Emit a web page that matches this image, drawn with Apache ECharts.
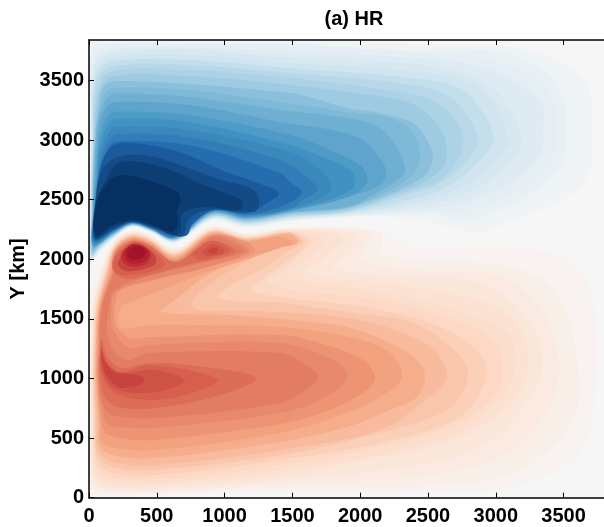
<!DOCTYPE html>
<html><head><meta charset="utf-8">
<style>html,body{margin:0;padding:0;background:#fff}#c{width:604px;height:527px}</style>
<script src="https://cdn.jsdelivr.net/npm/echarts@6/dist/echarts.min.js"></script>
</head><body><div id="c"></div>
<script>
const titleText = '(a) HR';
const yName = 'Y [km]';
const xTicks = [0,500,1000,1500,2000,2500,3000,3500];
const yTicks = [0,500,1000,1500,2000,2500,3000,3500];
const xMax = 3840, yMax = 3840;

// Filled-contour outlines: [x km, y km] vertices, one outline per level.
const redLevels = [.03,.06,.09,.12,.15,.18,.21,.24,.28,.32,.37,.41,.45,.48,.52,.56,.56,.60,.60,.60,.64,.64,.68,.68,.68,.73,.78,.84];
const redContours = [
[[10,30],[490,25],[1410,48],[2640,48],[3127,90],[3621,375],[3732,880],[3732,1550],[3570,1970],[3127,2095],[2390,2080],[2316,2137],[2205,2220],[1900,2263],[1480,2270],[1165,2220],[907,2280],[634,2095],[450,2205],[317,2246],[192,2162],[81,1953],[15,1743],[5,1000],[5,300]],
[[12,150],[60,55],[490,40],[1410,80],[2390,90],[3127,208],[3570,650],[3599,1155],[3452,1717],[3127,1936],[2515,1994],[2168,2053],[2146,2230],[1480,2262],[1165,2212],[907,2272],[634,2085],[450,2197],[317,2238],[192,2152],[87,1900],[22,1600],[12,1250],[10,1000],[10,650]],
[[18,180],[80,72],[490,57],[1410,115],[2390,174],[3083,375],[3422,820],[3459,1214],[3326,1600],[3009,1868],[2390,1910],[1999,1994],[2040,2120],[2087,2221],[1480,2257],[1165,2207],[907,2267],[634,2080],[450,2192],[317,2233],[192,2147],[93,1900],[27,1600],[16,1250],[12,1000],[14,650]],
[[24,220],[100,92],[490,73],[1410,149],[2146,233],[2884,426],[3275,879],[3341,1181],[3201,1550],[2884,1801],[2390,1852],[1800,1927],[1888,2062],[1977,2205],[1480,2253],[1165,2203],[907,2263],[634,2075],[450,2188],[317,2229],[192,2140],[100,1900],[33,1600],[20,1250],[15,1000],[18,650]],
[[30,250],[110,115],[490,98],[1410,191],[1903,291],[2685,484],[3142,820],[3238,1155],[3142,1491],[2788,1684],[2146,1801],[1608,1885],[1741,2020],[1866,2188],[1480,2245],[1165,2195],[907,2255],[634,2065],[450,2180],[317,2221],[192,2130],[105,1900],[38,1600],[24,1250],[18,1000],[22,650]],
[[36,280],[120,145],[490,124],[1410,233],[2589,484],[3009,795],[3142,1097],[3083,1382],[2640,1600],[2146,1726],[1460,1852],[1556,1953],[1741,2162],[1480,2240],[1165,2190],[907,2250],[634,2060],[450,2175],[317,2216],[192,2125],[110,1900],[44,1600],[28,1250],[22,1000],[28,650]],
[[44,310],[130,180],[490,157],[1410,275],[2441,510],[2884,736],[3046,1013],[2980,1323],[2640,1516],[2146,1659],[1500,1743],[1320,1810],[1446,1927],[1556,2036],[1652,2154],[1480,2235],[1165,2185],[907,2245],[634,2050],[450,2170],[317,2211],[192,2120],[118,1900],[50,1600],[32,1250],[26,1000],[34,650]],
[[52,340],[150,215],[490,191],[1410,317],[2146,459],[2736,677],[2928,1013],[2862,1239],[2515,1466],[2021,1600],[1409,1684],[1202,1743],[1320,1868],[1497,2011],[1615,2150],[1480,2228],[1165,2178],[907,2238],[634,2045],[450,2163],[317,2204],[192,2110],[125,1900],[55,1600],[37,1250],[30,1000],[40,650]],
[[60,370],[170,255],[490,233],[1410,358],[2021,510],[2640,736],[2795,1013],[2714,1214],[2390,1466],[1903,1558],[1409,1634],[951,1676],[1077,1801],[1268,1910],[1446,2053],[1578,2145],[1480,2224],[1165,2174],[907,2234],[634,2040],[450,2159],[317,2200],[192,2105],[130,1900],[60,1600],[41,1250],[35,1000],[48,650]],
[[70,400],[180,298],[490,275],[1410,400],[2146,568],[2478,820],[2640,1013],[2515,1265],[2050,1475],[1409,1558],[804,1575],[752,1634],[900,1801],[1047,1910],[1335,2078],[1556,2145],[1480,2220],[1165,2170],[907,2230],[634,2035],[450,2155],[317,2196],[192,2100],[137,1900],[66,1600],[45,1250],[40,1000],[56,650]],
[[89,420],[229,345],[490,333],[1410,468],[1903,593],[2220,736],[2419,845],[2478,1013],[2419,1155],[2220,1298],[1903,1432],[1409,1500],[1003,1533],[531,1558],[605,1634],[900,1885],[1210,2020],[1409,2095],[1541,2137],[1480,2210],[1165,2160],[907,2220],[634,2020],[450,2145],[317,2186],[192,2090],[145,1900],[72,1600],[52,1250],[50,1000],[70,650]],
[[100,470],[240,410],[490,400],[1410,543],[1903,711],[2146,845],[2308,1013],[2220,1214],[1950,1340],[1409,1432],[800,1449],[450,1449],[229,1432],[240,1600],[350,1660],[531,1743],[855,1885],[1187,2011],[1400,2095],[1512,2137],[1400,2190],[1165,2153],[907,2213],[634,2010],[450,2138],[317,2179],[192,2080],[155,1900],[78,1600],[58,1250],[56,1000],[81,650]],
[[125,540],[260,495],[490,484],[1410,618],[1777,736],[2050,904],[2109,1013],[2021,1155],[1800,1265],[1409,1365],[450,1348],[302,1340],[195,1449],[195,1634],[236,1743],[487,1827],[730,1910],[1000,1977],[1224,2062],[1165,2145],[907,2205],[634,2000],[450,2130],[317,2171],[192,2070],[165,1900],[84,1600],[64,1250],[60,1000],[92,650]],
[[150,610],[260,590],[490,585],[1410,711],[1700,820],[1910,1013],[1800,1155],[1409,1298],[435,1281],[302,1256],[177,1407],[165,1600],[192,1717],[310,1784],[560,1852],[855,1927],[1180,2062],[1120,2136],[907,2196],[634,1985],[450,2121],[317,2162],[192,2060],[175,1900],[90,1600],[72,1250],[66,1000],[105,700]],
[[190,690],[490,669],[1410,795],[1600,904],[1689,1013],[1600,1113],[1409,1214],[435,1214],[288,1155],[177,1239],[130,1432],[150,1600],[177,1726],[310,1810],[560,1893],[855,1977],[1150,2062],[1090,2125],[907,2188],[634,1975],[450,2113],[317,2154],[192,2050],[184,1900],[96,1600],[80,1250],[70,1000],[115,750]],
[[1232,1005],[730,1113],[435,1130],[236,1088],[140,1181],[89,1340],[81,1097],[103,879],[214,761],[487,753],[973,862]],
[[192,2036],[317,2150],[450,2112],[634,1978],[782,2070],[907,2154],[1040,2112],[1084,2062],[929,2003],[782,1969],[634,1928],[450,1869],[300,1835],[215,1860],[170,1930]],
[[951,988],[730,1072],[435,1113],[236,1055],[140,1130],[89,1239],[89,1046],[192,879],[487,820],[782,887]],
[[192,2011],[266,2104],[339,2145],[435,2104],[524,2020],[560,1953],[450,1894],[266,1864],[190,1900]],
[[789,2078],[855,2137],[929,2154],[1010,2112],[1040,2070],[929,2020],[819,1994],[760,2036]],
[[708,988],[487,1072],[236,1046],[140,1113],[89,1281],[118,1013],[214,904],[435,879],[605,921]],
[[850,2080],[910,2125],[985,2095],[1000,2060],[920,2030],[840,2040]],
[[406,1005],[310,1038],[192,1055],[110,1155],[89,1214],[118,1046],[214,929],[310,929],[398,963]],
[[229,2011],[280,2100],[339,2135],[420,2100],[487,2030],[487,1960],[376,1910],[266,1905],[214,1953]],
[[880,2070],[915,2095],[950,2085],[940,2055],[900,2050]],
[[240,2050],[295,2115],[340,2128],[405,2110],[455,2050],[440,1975],[370,1940],[285,1945],[243,1990]],
[[258,2060],[302,2112],[345,2122],[400,2108],[440,2060],[420,1990],[350,1962],[282,1980]],
[[280,2060],[322,2105],[375,2108],[418,2065],[395,2015],[340,1995],[292,2012]]
];
const blueLevels = [-.03,-.05,-.08,-.10,-.13,-.17,-.20,-.24,-.28,-.32,-.36,-.42,-.45,-.49,-.53,-.57,-.61,-.65,-.70,-.77,-.84,-.90,-.95,-1];
const blueContours = [
[[8,1950],[81,2065],[192,2182],[317,2271],[450,2231],[634,2139],[907,2326],[1165,2267],[1482,2318],[1903,2352],[2220,2355],[2530,2305],[2884,2230],[3127,2330],[3526,2523],[3687,2725],[3717,3144],[3673,3480],[3496,3647],[3127,3782],[2294,3815],[1482,3832],[730,3832],[155,3832],[10,3800],[4,3000],[3,2400]],
[[9,1965],[81,2068],[192,2184],[317,2273],[450,2233],[634,2141],[907,2328],[1165,2271],[1482,2321],[1903,2356],[2480,2355],[2788,2288],[3127,2414],[3422,2582],[3584,2750],[3606,3110],[3599,3362],[3452,3605],[3127,3756],[2294,3790],[1482,3824],[730,3824],[155,3824],[15,3790],[6,3000],[5,2400]],
[[10,1975],[81,2073],[192,2187],[317,2274],[450,2234],[634,2143],[907,2333],[1165,2276],[1482,2327],[1903,2362],[2480,2414],[2765,2330],[3009,2414],[3326,2607],[3496,2834],[3518,3110],[3504,3312],[3385,3564],[3009,3740],[2294,3756],[1482,3807],[730,3807],[155,3807],[22,3756],[9,3000],[7,2400]],
[[11,1985],[81,2076],[192,2188],[317,2275],[450,2235],[634,2144],[907,2335],[1165,2278],[1482,2330],[1903,2366],[2640,2397],[2935,2456],[3230,2641],[3422,2892],[3437,3085],[3422,3312],[3275,3522],[2884,3689],[2294,3740],[1482,3782],[730,3790],[155,3782],[30,3700],[12,3000],[8,2400]],
[[12,1995],[81,2081],[192,2191],[317,2277],[450,2237],[634,2147],[907,2339],[1165,2283],[1482,2335],[1903,2372],[2589,2439],[2884,2523],[3178,2691],[3341,2917],[3348,3085],[3341,3312],[3178,3463],[2832,3631],[2294,3698],[1482,3740],[730,3773],[155,3756],[37,3650],[15,3000],[10,2400]],
[[14,2005],[81,2087],[192,2195],[317,2279],[450,2239],[634,2150],[907,2344],[1165,2290],[1482,2342],[1903,2379],[2537,2473],[2788,2557],[3031,2725],[3178,2917],[3186,3018],[3127,3228],[2928,3480],[2670,3589],[2294,3647],[1482,3689],[730,3756],[155,3723],[37,3600],[18,3000],[12,2400]],
[[15,2015],[81,2091],[192,2197],[317,2281],[450,2240],[634,2152],[907,2348],[1165,2294],[1482,2346],[1903,2384],[2493,2498],[2714,2582],[2928,2750],[3083,2943],[3090,3027],[3031,3228],[2832,3480],[2294,3589],[1482,3647],[730,3715],[155,3689],[44,3560],[22,3000],[14,2400]],
[[16,2025],[81,2097],[192,2202],[317,2283],[450,2242],[634,2155],[907,2354],[1165,2301],[1482,2354],[1903,2393],[2441,2523],[2640,2607],[2832,2775],[2980,2976],[2980,3043],[2928,3194],[2736,3438],[2294,3530],[1482,3605],[730,3673],[155,3656],[48,3520],[26,3000],[16,2400]],
[[18,2035],[81,2103],[192,2205],[317,2285],[450,2244],[634,2158],[907,2358],[1165,2306],[1482,2360],[1903,2400],[2390,2557],[2537,2607],[2714,2750],[2862,2943],[2862,3027],[2810,3169],[2640,3379],[2294,3480],[1482,3564],[730,3631],[155,3614],[52,3470],[30,3000],[18,2400]],
[[20,2045],[81,2110],[192,2209],[317,2287],[450,2247],[634,2161],[907,2364],[1165,2313],[1482,2367],[1903,2408],[2390,2582],[2589,2666],[2714,2834],[2751,2943],[2736,3110],[2567,3312],[2294,3404],[1482,3522],[730,3589],[155,3572],[59,3400],[34,3000],[20,2400]],
[[22,2055],[81,2115],[192,2213],[317,2289],[450,2248],[634,2164],[907,2369],[1165,2319],[1482,2373],[1903,2415],[2294,2565],[2463,2641],[2611,2775],[2640,2892],[2611,3060],[2463,3253],[2294,3337],[1482,3463],[730,3538],[155,3530],[66,3350],[38,3000],[22,2400]],
[[25,2070],[81,2124],[192,2218],[317,2293],[450,2252],[634,2168],[907,2377],[1165,2329],[1482,2384],[1851,2456],[2094,2498],[2390,2641],[2493,2725],[2537,2859],[2478,3027],[2390,3144],[2146,3228],[1903,3270],[1652,3354],[1482,3396],[730,3471],[192,3496],[118,3463],[81,3362],[44,3000],[25,2400]],
[[27,2085],[81,2128],[192,2221],[317,2294],[450,2253],[634,2171],[907,2380],[1165,2333],[1482,2388],[1903,2430],[2146,2540],[2367,2691],[2441,2834],[2390,3060],[2220,3186],[1903,3236],[1409,3320],[730,3421],[192,3440],[125,3400],[89,3300],[47,3000],[27,2400]],
[[29,2095],[81,2134],[192,2224],[317,2296],[450,2255],[634,2173],[907,2385],[1165,2339],[1482,2394],[1903,2440],[2094,2540],[2272,2666],[2331,2750],[2250,2976],[2072,3144],[1409,3253],[730,3362],[192,3390],[130,3350],[75,3200],[50,3000],[29,2400]],
[[31,2105],[81,2141],[192,2229],[317,2298],[450,2257],[634,2177],[907,2391],[1165,2346],[1482,2402],[1947,2540],[2124,2607],[2190,2691],[2168,2808],[1977,3027],[1409,3152],[730,3295],[200,3320],[130,3280],[75,3100],[52,2800],[31,2400]],
[[33,2115],[192,2232],[317,2300],[450,2259],[634,2179],[907,2396],[1165,2351],[1482,2408],[1903,2520],[2050,2641],[2013,2775],[1777,2917],[1482,3043],[730,3211],[200,3240],[135,3200],[75,3000],[54,2700],[33,2400]],
[[35,2125],[192,2236],[317,2303],[450,2261],[634,2183],[907,2402],[1165,2358],[1482,2415],[1829,2523],[1962,2624],[1925,2750],[1682,2876],[1482,2959],[730,3152],[200,3180],[140,3130],[80,2950],[56,2650],[35,2400]],
[[37,2135],[192,2239],[317,2305],[450,2263],[634,2185],[907,2406],[1165,2364],[1482,2421],[1704,2515],[1792,2599],[1726,2725],[1505,2892],[730,3085],[200,3110],[145,3060],[85,2900],[58,2600],[37,2400]],
[[39,2145],[192,2244],[317,2307],[450,2265],[634,2189],[907,2412],[1165,2371],[1482,2428],[1578,2498],[1682,2582],[1608,2691],[1409,2834],[730,3027],[205,3050],[150,3000],[90,2850],[60,2600],[39,2400]],
[[41,2155],[192,2248],[317,2309],[450,2268],[634,2192],[907,2418],[1165,2378],[1409,2440],[1571,2557],[1482,2649],[1409,2725],[730,2959],[210,2990],[155,2950],[95,2800],[62,2600],[41,2400]],
[[43,2165],[192,2254],[317,2313],[450,2271],[634,2197],[723,2204],[767,2305],[915,2410],[1165,2388],[1313,2473],[1401,2557],[1224,2649],[973,2750],[730,2876],[487,2951],[236,2976],[140,2917],[75,2725],[43,2400]],
[[45,2175],[192,2258],[317,2315],[450,2273],[634,2200],[693,2200],[745,2347],[915,2420],[1114,2400],[1239,2414],[1246,2540],[1172,2607],[973,2666],[730,2766],[487,2859],[288,2876],[162,2834],[85,2725],[47,2450]],
[[47,2185],[177,2270],[325,2318],[501,2265],[612,2205],[671,2225],[693,2389],[870,2439],[1114,2414],[1128,2498],[1099,2515],[1047,2540],[804,2641],[656,2725],[413,2808],[214,2808],[125,2666],[60,2498]],
[[50,2204],[177,2288],[325,2330],[501,2271],[612,2230],[656,2288],[649,2397],[671,2498],[656,2557],[501,2640],[251,2708],[155,2666],[52,2473]]
];
const paletteStops = ['#053061','#2166ac','#4393c3','#92c5de','#d1e5f0','#f7f7f7','#fddbc7','#f4a582','#d6604d','#b2182b','#67001f'];

const levels = redLevels.concat(blueLevels);
const contours = redContours.concat(blueContours);
const fontFamily = '"Liberation Sans", Arial, sans-serif';
const labelStyle = {fontFamily, fontWeight:'bold', fontSize:20, color:'#000'};
const lineStyle = {color:'#000', width:1.5};
const plain = v => String(v);
const chart = echarts.init(document.getElementById('c'), null, {renderer:'canvas'});
chart.setOption({
  animation:false,
  backgroundColor:'#fff',
  title:{text:titleText, left:349, top:4, textAlign:'center',
    textStyle:{fontFamily, fontWeight:'bold', fontSize:20, color:'#000'}},
  grid:{left:89, top:40, width:520.7, height:457.7, show:true, backgroundColor:'#f7f6f6', borderWidth:0, outerBoundsMode:'none', containLabel:false},
  xAxis:[{type:'value', position:'bottom', min:0, max:xMax, z:5, splitLine:{show:false},
      axisLine:{lineStyle}, axisTick:{inside:true, length:5, customValues:xTicks, lineStyle:{color:'#000',width:1}},
      axisLabel:{customValues:xTicks, margin:9, formatter:plain, ...labelStyle}},
    {type:'value', position:'top', min:0, max:xMax, z:5, splitLine:{show:false},
      axisLine:{lineStyle}, axisTick:{inside:true, length:5, customValues:xTicks, lineStyle:{color:'#000',width:1}},
      axisLabel:{show:false}}],
  yAxis:[{type:'value', position:'left', min:0, max:yMax, z:5, splitLine:{show:false},
      name:yName, nameLocation:'middle', nameGap:54, nameTextStyle:labelStyle,
      axisLine:{lineStyle}, axisTick:{inside:true, length:5, customValues:yTicks, lineStyle:{color:'#000',width:1}},
      axisLabel:{customValues:yTicks, margin:5, formatter:plain, ...labelStyle}}],
  visualMap:{show:false, type:'continuous', seriesIndex:0, dimension:0, min:-1, max:1, inRange:{color:paletteStops}},
  series:[{type:'custom', coordinateSystem:'cartesian2d', clip:true, silent:true,
    data:levels.map((v,i)=>[v,i]),
    renderItem(params, api){
      const pts = contours[api.value(1)].map(p=>api.coord(p));
      return {type:'polygon', shape:{points:pts, smooth:0.35}, style:{fill:api.visual('color')}};
    }}]
});
</script></body></html>
